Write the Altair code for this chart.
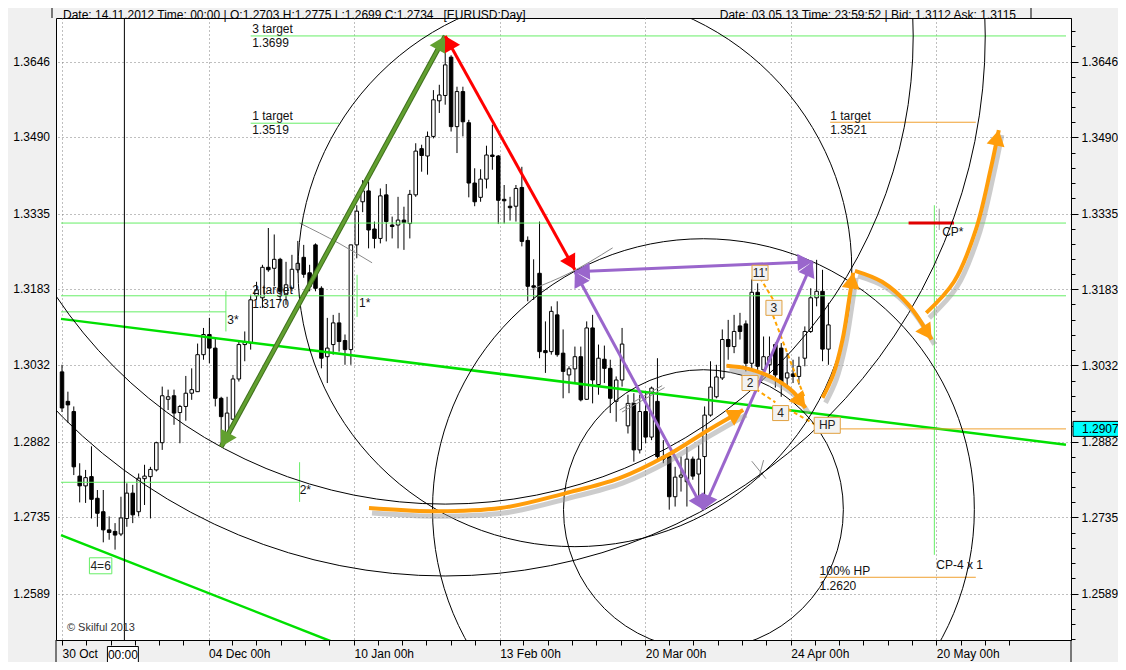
import math
import altair as alt
import pandas as pd

# ---------------- data ----------------
opens = [1.3019,1.2961,1.2941,1.2815,1.2796,1.2814,1.2772,1.2746,1.2711,1.2708,
1.2703,1.2733,1.2782,1.2746,1.2810,1.2814,1.2827,1.2880,1.2965,1.2972,
1.2939,1.2951,1.2977,1.2980,1.3053,1.3093,1.3066,1.2967,1.2898,1.2926,
1.3005,1.3073,1.3076,1.3170,1.3166,1.3227,1.3225,1.3243,1.3172,1.3185,
1.3222,1.3247,1.3216,1.3272,1.3185,1.3049,1.3073,1.3116,1.3081,1.3063,
1.3272,1.3359,1.3381,1.3304,1.3285,1.3373,1.3312,1.3312,1.3322,1.3315,
1.3373,1.3467,1.3452,1.3492,1.3565,1.3576,1.3655,1.3512,1.3584,1.3520,
1.3397,1.3368,1.3405,1.3454,1.3452,1.3364,1.3350,1.3350,1.3388,1.3281,
1.3190,1.3215,1.3061,1.3059,1.3132,1.3056,1.3013,1.3025,1.3049,1.2965,
1.3106,1.2994,1.3044,1.3026,1.2961,1.3003,1.2913,1.2957,1.2866,1.2941,
1.2891,1.2961,1.2853,1.2853,1.2775,1.2813,1.2804,1.2848,1.2819,1.2853,
1.2934,1.2970,1.3007,1.3083,1.3069,1.3110,1.3114,1.3036,1.3177,1.3023,
1.3033,1.3073,1.3066,1.3007,1.3015,1.3010,1.3046,1.3099,1.3166,1.3179,
1.3064]
highs = [1.3033,1.2980,1.2951,1.2840,1.2827,1.2873,1.2788,1.2788,1.2737,1.2724,
1.2775,1.2801,1.2798,1.2820,1.2837,1.2833,1.2882,1.2990,1.2984,1.2984,
1.2954,1.3011,1.3026,1.3075,1.3106,1.3126,1.3086,1.2970,1.2970,1.3013,
1.3079,1.3099,1.3172,1.3198,1.3232,1.3306,1.3293,1.3246,1.3238,1.3252,
1.3280,1.3272,1.3232,1.3275,1.3189,1.3126,1.3132,1.3136,1.3093,1.3272,
1.3352,1.3403,1.3400,1.3319,1.3386,1.3395,1.3329,1.3369,1.3349,1.3383,
1.3478,1.3475,1.3502,1.3587,1.3598,1.3699,1.3659,1.3594,1.3594,1.3526,
1.3427,1.3425,1.3473,1.3516,1.3454,1.3393,1.3369,1.3393,1.3430,1.3289,
1.3243,1.3319,1.3119,1.3149,1.3159,1.3103,1.3030,1.3069,1.3069,1.3119,
1.3132,1.3073,1.3071,1.3043,1.3010,1.3106,1.2974,1.2977,1.2974,1.2980,
1.2990,1.3046,1.2885,1.2856,1.2833,1.2853,1.2872,1.2853,1.2875,1.2951,
1.3040,1.3033,1.3103,1.3122,1.3132,1.3136,1.3121,1.3203,1.3195,1.3089,
1.3089,1.3077,1.3076,1.3056,1.3043,1.3049,1.3109,1.3185,1.3242,1.3222,
1.3156]
lows = [1.2940,1.2919,1.2817,1.2764,1.2763,1.2733,1.2717,1.2687,1.2692,1.2673,
1.2699,1.2717,1.2724,1.2737,1.2759,1.2733,1.2824,1.2866,1.2944,1.2915,
1.2879,1.2923,1.2964,1.2980,1.3043,1.3036,1.2951,1.2872,1.2891,1.2924,
1.3000,1.3040,1.3063,1.3162,1.3146,1.3218,1.3189,1.3159,1.3152,1.3179,
1.3216,1.3206,1.3179,1.3179,1.3026,1.2997,1.3053,1.3059,1.3033,1.3033,
1.3245,1.3338,1.3265,1.3265,1.3275,1.3279,1.3285,1.3265,1.3262,1.3285,
1.3369,1.3420,1.3414,1.3488,1.3540,1.3557,1.3502,1.3458,1.3492,1.3368,
1.3350,1.3359,1.3386,1.3424,1.3314,1.3315,1.3321,1.3319,1.3269,1.3159,
1.3162,1.3046,1.3017,1.3053,1.3049,1.2967,1.2977,1.2997,1.2961,1.2964,
1.2957,1.2974,1.2997,1.2938,1.2921,1.2990,1.2898,1.2843,1.2859,1.2879,
1.2885,1.2846,1.2840,1.2750,1.2756,1.2785,1.2756,1.2808,1.2775,1.2750,
1.2931,1.2967,1.3003,1.3043,1.3056,1.3083,1.3020,1.3023,1.3023,1.3010,
1.3017,1.2988,1.2970,1.2990,1.2997,1.2994,1.3030,1.3096,1.3149,1.3040,
1.3033]
closes = [1.2948,1.2954,1.2833,1.2796,1.2812,1.2770,1.2743,1.2711,1.2706,1.2701,
1.2734,1.2782,1.2740,1.2811,1.2815,1.2828,1.2880,1.2972,1.2970,1.2938,
1.2951,1.2977,1.2984,1.3053,1.3093,1.3066,1.2967,1.2931,1.2938,1.3005,
1.3073,1.3077,1.3162,1.3182,1.3227,1.3222,1.3243,1.3179,1.3192,1.3223,
1.3235,1.3213,1.3189,1.3185,1.3046,1.3066,1.3116,1.3079,1.3063,1.3272,
1.3340,1.3381,1.3302,1.3285,1.3371,1.3319,1.3309,1.3322,1.3317,1.3374,
1.3462,1.3453,1.3492,1.3567,1.3577,1.3639,1.3512,1.3584,1.3522,1.3397,
1.3359,1.3405,1.3454,1.3451,1.3362,1.3361,1.3347,1.3386,1.3279,1.3189,
1.3187,1.3059,1.3057,1.3139,1.3053,1.3020,1.3025,1.3049,1.2964,1.3106,
1.3003,1.3046,1.3026,1.2967,1.3003,1.3074,1.2957,1.2866,1.2941,1.2891,
1.2987,1.2853,1.2848,1.2775,1.2813,1.2817,1.2848,1.2815,1.2848,1.2934,
1.2989,1.3009,1.3083,1.3069,1.3099,1.3099,1.3036,1.3177,1.3030,1.3049,
1.3049,1.3013,1.2997,1.3017,1.3010,1.3030,1.3099,1.3166,1.3179,1.3064,
1.3112]

price_ticks = [1.3646, 1.3490, 1.3335, 1.3183, 1.3032, 1.2882, 1.2735, 1.2589]
date_tick_pos = [0, 24.86, 49.55, 74.24, 98.93, 123.62, 148.31]
date_tick_labels = ["30 Oct", "04 Dec 00h", "10 Jan 00h", "13 Feb 00h",
                    "20 Mar 00h", "24 Apr 00h", "20 May 00h"]

# straight arrows (bar index, price) – both ends have heads
arrow_green = [(27.0, 1.2872), (65.0, 1.3699)]
arrow_red = [(65.0, 1.3699), (87.0, 1.3222)]
arrow_purple = [[(87.0, 1.3218), (108.8, 1.2750)],
                [(87.0, 1.3218), (127.3, 1.3238)],
                [(108.8, 1.2750), (127.3, 1.3238)]]

# curved orange arrows
orange_curves = [
    [(52.07, 1.2753), (62.65, 1.2747), (74.4, 1.2753), (85.49, 1.2782), (94.56, 1.2811),
     (102.45, 1.2854), (109.67, 1.2905), (115.55, 1.2944)],
    [(112.7, 1.3031), (116.4, 1.3025), (120.6, 1.3007), (124.0, 1.2980), (126.1, 1.2948)],
    [(129.0, 1.2968), (130.8, 1.3013), (132.4, 1.3083), (133.5, 1.3162), (134.2, 1.3216)],
    [(134.5, 1.3220), (139.1, 1.3198), (143.6, 1.3152), (147.5, 1.3083)],
    [(146.6, 1.3136), (151.3, 1.3198), (155.0, 1.3302), (157.5, 1.3424), (158.9, 1.3505)],
]

# circles: centre (bar, price) and radius in bars
circle_i = [87.0, 108.8, 108.8, 65.0, 65.0]
circle_p = [1.3222, 1.2750, 1.2750, 1.3699, 1.3699]
circle_r = [46.5, 45.5, 23.5, 78.6, 90.7]

# thin grey construction strokes
grey_marks = [
    [(40.3, 1.3316), (47.0, 1.3275), (52.6, 1.3236)],
    [(79.7, 1.3183), (86.0, 1.3215), (93.4, 1.3266)],
    [(94.6, 1.2944), (101.8, 1.2992)],
    [(95.0, 1.2940), (102.2, 1.2988)],
    [(117.0, 1.2844), (119.4, 1.2810)],
    [(118.2, 1.2812), (119.0, 1.2846)],
]

# ---------------- geometry helpers ----------------
XMIN, XMAX = -0.17, 170.3
PMIN, PMAX = 1.25006, 1.37363
W, H = 1015, 622
PXB = W / (XMAX - XMIN)
LMAX, LMIN = math.log(PMAX), math.log(PMIN)


def px(i):
    return (i - XMIN) * PXB


def py(p):
    return (LMAX - math.log(p)) / (LMAX - LMIN) * H


def inv_x(x):
    return XMIN + x / PXB


def inv_y(y):
    return math.exp(LMAX - y / H * (LMAX - LMIN))


def head(tip, prev, size):
    tx, ty = px(tip[0]), py(tip[1])
    qx, qy = px(prev[0]), py(prev[1])
    dx, dy = tx - qx, ty - qy
    L = math.hypot(dx, dy)
    ux, uy = dx / L, dy / L
    r = math.sqrt(size) / 2
    h = math.sqrt(3) * r / 2
    return {"i": inv_x(tx - h * ux), "p": inv_y(ty - h * uy),
            "a": math.degrees(math.atan2(ux, -uy)) % 360}


FONT = "Liberation Sans"
xs = alt.Scale(domain=[XMIN, XMAX], nice=False, zero=False)
ys = alt.Scale(type="log", domain=[PMIN, PMAX], nice=False)

minor = []
for a, b in zip(price_ticks[:-1], price_ticks[1:]):
    for k in range(1, 5):
        minor.append(round(a * (b / a) ** (k / 5), 6))
step = (price_ticks[0] / price_ticks[1]) ** (1 / 5)
minor += [round(price_ticks[0] * step ** k, 6) for k in (1, 2)]
minor += [round(price_ticks[-1] / step ** k, 6) for k in (1, 2, 3)]
major_js = "[" + ",".join(str(v) for v in price_ticks) + "]"
is_major = f"indexof({major_js}, datum.value) >= 0"

dstep = (date_tick_pos[-1] - date_tick_pos[0]) / (len(date_tick_pos) - 1) / 6
xminor = []
for k in range(1, 6 * (len(date_tick_pos) - 1) + 4):
    v = round(date_tick_pos[0] + k * dstep, 4)
    if v < XMAX and all(abs(v - d) > 0.5 for d in date_tick_pos):
        xminor.append(v)
date_js = "[" + ",".join(str(v) for v in date_tick_pos) + "]"
lab_js = "[" + ",".join(f"'{s}'" for s in date_tick_labels) + "]"
is_date = f"indexof({date_js}, datum.value) >= 0"

x_axis = alt.Axis(values=sorted(date_tick_pos + xminor), title=None, grid=True,
                  gridDash=[1, 3], gridColor="#7f7f7f", gridWidth=1,
                  gridOpacity={"condition": {"test": is_date, "value": 1}, "value": 0},
                  domain=False, tickSize=5, tickColor="black", labelAlign="left",
                  labelFont=FONT, labelFontSize=12, labelColor="black", labelPadding=3,
                  labelFlush=False, labelOverlap=False, labelBound=False,
                  labelExpr=f"{is_date} ? {lab_js}[indexof({date_js}, datum.value)] : ''")
y_axis = alt.Axis(values=sorted(price_ticks + minor), orient="right", title=None,
                  grid=True, gridDash=[1, 3], gridColor="#7f7f7f",
                  gridOpacity={"condition": {"test": is_major, "value": 1}, "value": 0},
                  tickSize={"condition": {"test": is_major, "value": 7}, "value": 4},
                  tickColor="black", domain=True, domainColor="black",
                  labelFont=FONT, labelFontSize=12, labelColor="black", labelPadding=3,
                  labelExpr=f"{is_major} ? format(datum.value, '.4f') : ''",
                  labelOverlap=False, labelBound=False, labelFlush=False)


def X(f="i"):
    return alt.X(f"{f}:Q", scale=xs, axis=x_axis)


def Y(f="p"):
    return alt.Y(f"{f}:Q", scale=ys, axis=y_axis)


# ---------------- candles ----------------
n = len(opens)
cdf = pd.DataFrame({"i": list(range(n)), "o": opens, "h": highs, "l": lows, "c": closes})

wicks = alt.Chart(cdf).mark_rule(color="black", strokeWidth=1).encode(
    x=X(), y=Y("l"), y2="h:Q")
bodies = alt.Chart(cdf).mark_bar(size=3.5, stroke="black", strokeWidth=1).encode(
    x=X(), y=Y("o"), y2="c:Q",
    fill=alt.condition("datum.c >= datum.o", alt.value("white"), alt.value("black")))


def seg_df(segs):
    rows = []
    for k, s in enumerate(segs):
        for j, (i, p) in enumerate(s):
            rows.append({"g": k, "k": j, "i": i, "p": p})
    return pd.DataFrame(rows)


def lines(segs, interp="linear", **kw):
    return alt.Chart(seg_df(segs)).mark_line(clip=True, interpolate=interp, **kw).encode(
        x=X(), y=Y(), detail="g:N", order="k:Q")


light_green = [
    [(32.0, 1.3699), (XMAX, 1.3699)],
    [(32.0, 1.3519), (47.0, 1.3519)],
    [(XMIN, 1.3316), (XMAX, 1.3316)],
    [(XMIN, 1.3170), (XMAX, 1.3170)],
    [(XMIN, 1.3138), (27.8, 1.3138)],
    [(27.8, 1.3180), (27.8, 1.3099)],
    [(XMIN, 1.2803), (40.3, 1.2803)],
    [(40.3, 1.2842), (40.3, 1.2765)],
    [(50.05, 1.3212), (50.05, 1.3128)],
    [(147.97, 1.3352), (147.97, 1.2663)],
]
trend_green = [
    [(XMIN, 1.3124), (XMAX, 1.2876)],
    [(XMIN, 1.2701), (47.5, 1.2490)],
]
orange_levels = [
    [(129.8, 1.2907), (XMAX, 1.2907)],
    [(128.5, 1.2620), (155.0, 1.2620)],
    [(130.3, 1.3521), (155.0, 1.3521)],
]
orange_dash = [
    [(118.4, 1.3206), (120.6, 1.3163)],
    [(120.6, 1.3131), (124.3, 1.3017)],
    [(124.3, 1.3017), (126.0, 1.2968)],
    [(117.7, 1.2985), (121.0, 1.2959)],
    [(123.1, 1.2946), (128.3, 1.2912)],
]
red_short = [[(143.6, 1.3316), (151.3, 1.3316)]]
cp_mark = [[(148.8, 1.3345), (148.8, 1.3302)]]
crosshair = [[(10.58, PMIN), (10.58, PMAX)]]

layers = [wicks, bodies]
layers.append(lines(light_green, color="#66ee66", strokeWidth=1))
layers.append(lines(trend_green, color="#00e000", strokeWidth=2.5))
layers.append(lines(orange_levels, color="#f0a030", strokeWidth=1))
layers.append(lines(orange_dash, color="#ffa500", strokeWidth=2, strokeDash=[4, 3]))
layers.append(lines(cp_mark, color="#999999", strokeWidth=1))
layers.append(lines(red_short, color="#e00000", strokeWidth=3))
layers.append(lines(crosshair, color="black", strokeWidth=1))
layers.append(lines(grey_marks, interp="monotone", color="#8a8a8a", strokeWidth=1))

cir = pd.DataFrame({"i": circle_i, "p": circle_p,
                    "s": [(2 * r * PXB) ** 2 for r in circle_r]})
layers.append(alt.Chart(cir).mark_point(shape="circle", filled=False, color="black",
                                        strokeWidth=1, opacity=1, clip=True).encode(
    x=X(), y=Y(), size=alt.Size("s:Q", scale=None)))


def straight_arrow(seg, color, width, hsize, under=None):
    out = []
    if under:
        out.append(lines([seg], color=under, strokeWidth=width + 2))
    out.append(lines([seg], color=color, strokeWidth=width))
    hd = pd.DataFrame([head(seg[1], seg[0], hsize), head(seg[0], seg[1], hsize)])
    out.append(alt.Chart(hd).mark_point(shape="triangle-up", filled=True, color=color,
                                        size=hsize, opacity=1).encode(
        x=X(), y=Y(), angle=alt.Angle("a:Q", scale=None)))
    return out


layers += straight_arrow(arrow_green, "#62a030", 3, 330, under="#3e6e1c")
layers += straight_arrow(arrow_red, "#ff0000", 3, 300)
for seg in arrow_purple:
    layers += straight_arrow(seg, "#9a66cc", 3, 300)

cdf_or = seg_df(orange_curves)
layers.append(alt.Chart(cdf_or).mark_line(interpolate="catmull-rom", color="#9a9a9a",
                                          strokeWidth=5, opacity=0.5, xOffset=3,
                                          yOffset=5, clip=True).encode(
    x=X(), y=Y(), detail="g:N", order="k:Q"))
layers.append(alt.Chart(cdf_or).mark_line(interpolate="catmull-rom", color="#ff9d0a",
                                          strokeWidth=4, clip=True).encode(
    x=X(), y=Y(), detail="g:N", order="k:Q"))
oh = pd.DataFrame([head(c[-1], c[-2], 330) for c in orange_curves])
layers.append(alt.Chart(oh).mark_point(shape="triangle-up", filled=True, color="#ff9d0a",
                                       size=330, opacity=1).encode(
    x=X(), y=Y(), angle=alt.Angle("a:Q", scale=None)))

# ---------------- texts ----------------
ann_text = ["3 target", "1.3699", "1 target", "1.3519", "2 target", "1.3170", "3*", "1*",
            "2*", "1 target", "1.3521", "100% HP", "1.2620", "CP-4 x 1", "CP*"]
ann_i = [32.25, 32.25, 32.25, 32.25, 32.25, 32.25, 28.05, 50.39, 40.31, 130.3, 130.3,
         128.5, 128.5, 148.3, 149.3]
ann_p = [1.3713, 1.3684, 1.3534, 1.3505, 1.3182, 1.3154, 1.3122, 1.3156, 1.2788, 1.3534,
         1.3505, 1.2632, 1.2603, 1.2644, 1.3298]
tdf = pd.DataFrame({"t": ann_text, "i": ann_i, "p": ann_p})
layers.append(alt.Chart(tdf).mark_text(align="left", baseline="middle", font=FONT,
                                       fontSize=12, color="#111111").encode(
    x=X(), y=Y(), text="t:N"))


def boxed(texts, ii, pp, path, size, fill, stroke):
    d = pd.DataFrame({"t": texts, "i": ii, "p": pp})
    return [alt.Chart(d).mark_point(shape=path, filled=True, fill=fill, stroke=stroke,
                                    strokeWidth=1, size=size, opacity=1).encode(x=X(), y=Y()),
            alt.Chart(d).mark_text(font=FONT, fontSize=12, color="#222222").encode(
                x=X(), y=Y(), text="t:N")]


layers += boxed(["11'", "3", "2", "4"], [118.4, 120.76, 116.7, 121.9],
                [1.3216, 1.3146, 1.2997, 1.2938], "M-1.07,-1L1.07,-1L1.07,1L-1.07,1Z",
                225, "#f2f2f2", "#e0a040")
layers += boxed(["HP"], [129.8], [1.2914], "M-1.63,-1L1.63,-1L1.63,1L-1.63,1Z",
                256, "#f2f2f2", "#e0a040")
layers += boxed(["4=6"], [6.55], [1.2642], "M-1.4,-1L1.4,-1L1.4,1L-1.4,1Z",
                256, "white", "#66ee66")

cp = pd.DataFrame({"t": ["© Skilful 2013"], "i": [0.84], "p": [1.2523]})
layers.append(alt.Chart(cp).mark_text(align="left", font=FONT, fontSize=11,
                                      color="#333333").encode(x=X(), y=Y(), text="t:N"))

lp = pd.DataFrame({"t": [f"{v:.4f}" for v in price_ticks], "p": price_ticks})
layers.append(alt.Chart(lp).mark_text(align="right", baseline="middle", font=FONT,
                                      fontSize=12, color="black").encode(
    x=alt.value(-6), y=Y(), text="t:N"))

cur = pd.DataFrame({"t": ["1.2907"], "p": [1.2907]})
layers.append(alt.Chart(cur).mark_point(shape="M-3.53,-1L3.53,-1L3.53,1L-3.53,1Z",
                                        filled=True, fill="#00ffff", stroke="black",
                                        strokeWidth=1, size=225, opacity=1).encode(
    x=alt.value(W + 28.5), y=Y()))
layers.append(alt.Chart(cur).mark_text(align="left", baseline="middle", font=FONT,
                                       fontSize=12, color="black").encode(
    x=alt.value(W + 11), y=Y(), text="t:N"))

tb = pd.DataFrame({"t": ["00:00"], "i": [10.33]})
layers.append(alt.Chart(tb).mark_point(shape="M-1.82,-1L1.82,-1L1.82,1L-1.82,1Z",
                                       filled=True, fill="white", stroke="black",
                                       strokeWidth=1, size=289, opacity=1).encode(
    x=X(), y=alt.value(H + 15)))
layers.append(alt.Chart(tb).mark_text(font=FONT, fontSize=12, color="black").encode(
    x=X(), y=alt.value(H + 15), text="t:N"))

# frame lines continuing into the header and time-axis strips
frame = pd.DataFrame({"k": [0, 1, 2, 3]})
for xv, y1, y2 in [(0, H, H + 40), (W, H, H + 40), (-4, -12, 0), (975, -12, 0)]:
    layers.append(alt.Chart(frame.iloc[[0]]).mark_rule(color="black", strokeWidth=1).encode(
        x=alt.value(xv), y=alt.value(y1), y2=alt.value(y2)))

hdr_left = "Date: 14.11.2012 Time: 00:00 | O:1.2703 H:1.2775 L:1.2699 C:1.2734\u00a0\u00a0\u00a0[EURUSD:Day]"
hdr_right = "Date: 03.05.13 Time: 23:59:52 | Bid: 1.3112 Ask: 1.3115"
hdr = pd.DataFrame({"t": [hdr_left, hdr_right]})
layers.append(alt.Chart(hdr.iloc[[0]]).mark_text(align="left", baseline="top", font=FONT,
                                                 fontSize=12, color="black").encode(
    x=alt.value(7), y=alt.value(-8), text="t:N"))
layers.append(alt.Chart(hdr.iloc[[1]]).mark_text(align="right", baseline="top", font=FONT,
                                                 fontSize=12, color="black").encode(
    x=alt.value(960), y=alt.value(-8), text="t:N"))

chart = alt.layer(*layers).properties(
    width=W, height=H, autosize="none",
    padding={"left": 48, "top": 10, "right": 47, "bottom": 22},
    background="#f0f0f0",
).configure_view(fill="white", stroke="black", strokeWidth=1)

chart.save("out.html", embed_options={"renderer": "svg", "actions": False})
